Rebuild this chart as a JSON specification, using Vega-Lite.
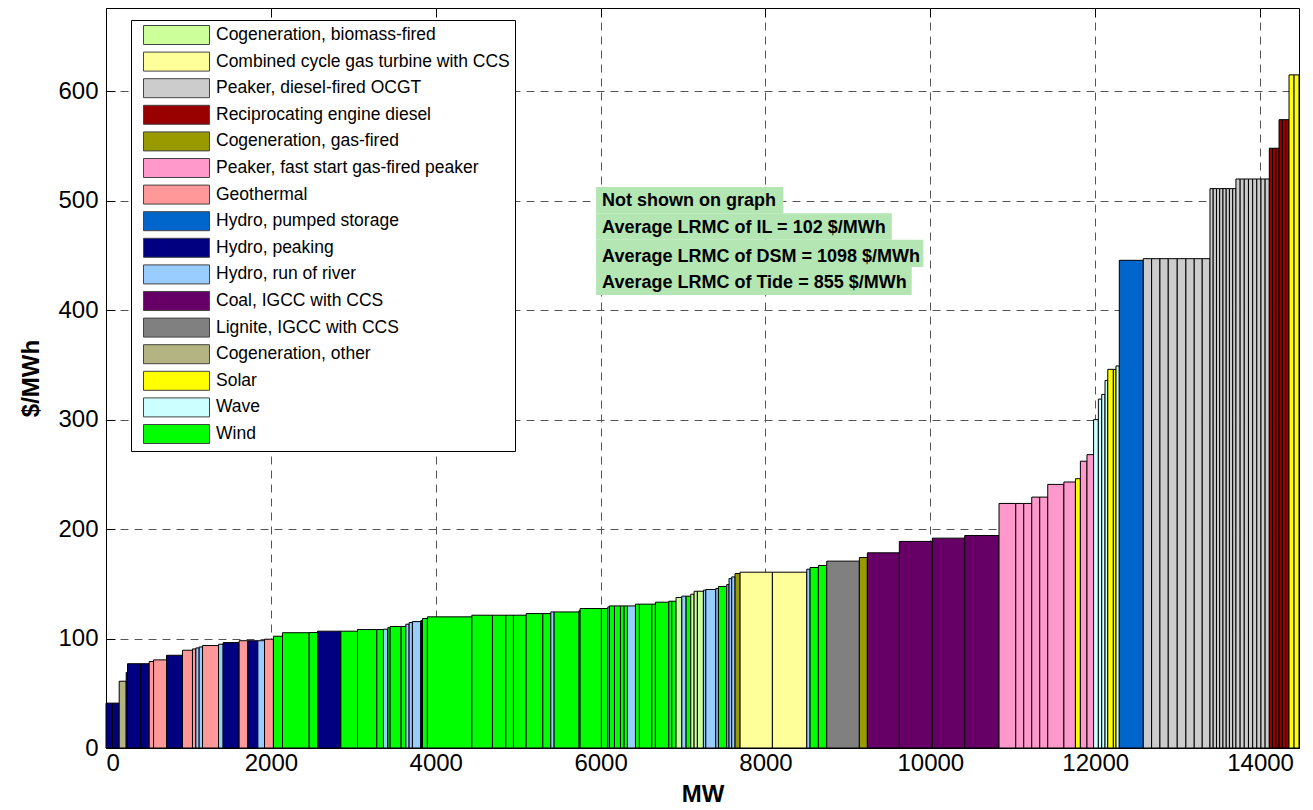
{
  "$schema": "https://vega.github.io/schema/vega-lite/v6.json",
  "width": 1193,
  "height": 740,
  "autosize": {"type": "none"},
  "padding": {"left": 106, "top": 8, "right": 14, "bottom": 62},
  "background": "white",
  "datasets": {
    "bars": [
      {"a": 0, "b": 79, "v": 41, "t": "Hydro, peaking"},
      {"a": 79, "b": 160, "v": 41, "t": "Hydro, peaking"},
      {"a": 160, "b": 245, "v": 61, "t": "Cogeneration, other"},
      {"a": 245, "b": 261, "v": 69, "t": "Hydro, peaking"},
      {"a": 261, "b": 423, "v": 77, "t": "Hydro, peaking"},
      {"a": 423, "b": 524, "v": 77, "t": "Hydro, peaking"},
      {"a": 524, "b": 577, "v": 79, "t": "Geothermal"},
      {"a": 577, "b": 734, "v": 80.5, "t": "Geothermal"},
      {"a": 734, "b": 928, "v": 84.7, "t": "Hydro, peaking"},
      {"a": 928, "b": 1049, "v": 89.3, "t": "Geothermal"},
      {"a": 1049, "b": 1090, "v": 90.5, "t": "Geothermal"},
      {"a": 1090, "b": 1130, "v": 91.4, "t": "Hydro, run of river"},
      {"a": 1130, "b": 1171, "v": 92.3, "t": "Hydro, run of river"},
      {"a": 1171, "b": 1365, "v": 93.6, "t": "Geothermal"},
      {"a": 1365, "b": 1421, "v": 94.8, "t": "Hydro, run of river"},
      {"a": 1421, "b": 1615, "v": 96.3, "t": "Hydro, peaking"},
      {"a": 1615, "b": 1721, "v": 98, "t": "Geothermal"},
      {"a": 1721, "b": 1842, "v": 98, "t": "Hydro, peaking"},
      {"a": 1842, "b": 1923, "v": 98, "t": "Hydro, run of river"},
      {"a": 1923, "b": 2031, "v": 99.4, "t": "Geothermal"},
      {"a": 2031, "b": 2141, "v": 102.1, "t": "Wind"},
      {"a": 2141, "b": 2465, "v": 105.3, "t": "Wind"},
      {"a": 2465, "b": 2566, "v": 105.5, "t": "Wind"},
      {"a": 2566, "b": 2849, "v": 106.7, "t": "Hydro, peaking"},
      {"a": 2849, "b": 3051, "v": 106.7, "t": "Wind"},
      {"a": 3051, "b": 3285, "v": 108.2, "t": "Wind"},
      {"a": 3285, "b": 3366, "v": 108.2, "t": "Wind"},
      {"a": 3366, "b": 3419, "v": 108.5, "t": "Hydro, run of river"},
      {"a": 3419, "b": 3447, "v": 110, "t": "Wind"},
      {"a": 3447, "b": 3580, "v": 111, "t": "Wind"},
      {"a": 3580, "b": 3637, "v": 111, "t": "Wind"},
      {"a": 3637, "b": 3677, "v": 113.1, "t": "Hydro, run of river"},
      {"a": 3677, "b": 3717, "v": 114.6, "t": "Hydro, run of river"},
      {"a": 3717, "b": 3819, "v": 115.5, "t": "Hydro, run of river"},
      {"a": 3819, "b": 3839, "v": 116.4, "t": "Hydro, peaking"},
      {"a": 3839, "b": 3899, "v": 118.3, "t": "Wind"},
      {"a": 3899, "b": 4438, "v": 119.8, "t": "Wind"},
      {"a": 4438, "b": 4688, "v": 121.3, "t": "Wind"},
      {"a": 4688, "b": 4850, "v": 121.3, "t": "Wind"},
      {"a": 4850, "b": 4943, "v": 121.3, "t": "Wind"},
      {"a": 4943, "b": 5097, "v": 121.3, "t": "Wind"},
      {"a": 5097, "b": 5299, "v": 122.8, "t": "Wind"},
      {"a": 5299, "b": 5396, "v": 122.8, "t": "Wind"},
      {"a": 5396, "b": 5436, "v": 124.3, "t": "Hydro, run of river"},
      {"a": 5436, "b": 5739, "v": 124.3, "t": "Wind"},
      {"a": 5739, "b": 5751, "v": 125.5, "t": "Hydro, run of river"},
      {"a": 5751, "b": 6010, "v": 127.4, "t": "Wind"},
      {"a": 6010, "b": 6087, "v": 127.4, "t": "Wind"},
      {"a": 6087, "b": 6107, "v": 128.9, "t": "Hydro, run of river"},
      {"a": 6107, "b": 6168, "v": 129.8, "t": "Wind"},
      {"a": 6168, "b": 6241, "v": 129.8, "t": "Wind"},
      {"a": 6241, "b": 6285, "v": 129.8, "t": "Wind"},
      {"a": 6285, "b": 6326, "v": 129.8, "t": "Wind"},
      {"a": 6326, "b": 6423, "v": 129.8, "t": "Hydro, run of river"},
      {"a": 6423, "b": 6471, "v": 131.4, "t": "Wind"},
      {"a": 6471, "b": 6621, "v": 131.4, "t": "Wind"},
      {"a": 6621, "b": 6665, "v": 131.4, "t": "Wind"},
      {"a": 6665, "b": 6827, "v": 133.2, "t": "Wind"},
      {"a": 6827, "b": 6863, "v": 134.1, "t": "Wind"},
      {"a": 6863, "b": 6915, "v": 134.1, "t": "Wind"},
      {"a": 6915, "b": 6985, "v": 137.5, "t": "Cogeneration, biomass-fired"},
      {"a": 6985, "b": 7037, "v": 138.7, "t": "Hydro, run of river"},
      {"a": 7037, "b": 7094, "v": 138.7, "t": "Wind"},
      {"a": 7094, "b": 7134, "v": 140.5, "t": "Cogeneration, biomass-fired"},
      {"a": 7134, "b": 7174, "v": 143.2, "t": "Cogeneration, biomass-fired"},
      {"a": 7174, "b": 7247, "v": 143.2, "t": "Cogeneration, biomass-fired"},
      {"a": 7247, "b": 7276, "v": 144.2, "t": "Hydro, run of river"},
      {"a": 7276, "b": 7397, "v": 144.8, "t": "Hydro, run of river"},
      {"a": 7397, "b": 7429, "v": 145.7, "t": "Hydro, run of river"},
      {"a": 7429, "b": 7530, "v": 147.5, "t": "Wind"},
      {"a": 7530, "b": 7558, "v": 149.3, "t": "Hydro, run of river"},
      {"a": 7558, "b": 7591, "v": 154.8, "t": "Hydro, run of river"},
      {"a": 7591, "b": 7631, "v": 156.3, "t": "Hydro, run of river"},
      {"a": 7631, "b": 7692, "v": 159.4, "t": "Cogeneration, gas-fired"},
      {"a": 7692, "b": 8084, "v": 160.6, "t": "Combined cycle gas turbine with CCS"},
      {"a": 8084, "b": 8501, "v": 160.6, "t": "Combined cycle gas turbine with CCS"},
      {"a": 8501, "b": 8541, "v": 163.3, "t": "Hydro, run of river"},
      {"a": 8541, "b": 8642, "v": 164.9, "t": "Wind"},
      {"a": 8642, "b": 8743, "v": 166.7, "t": "Wind"},
      {"a": 8743, "b": 9139, "v": 170.7, "t": "Lignite, IGCC with CCS"},
      {"a": 9139, "b": 9236, "v": 174, "t": "Cogeneration, gas-fired"},
      {"a": 9236, "b": 9624, "v": 178.3, "t": "Coal, IGCC with CCS"},
      {"a": 9624, "b": 10024, "v": 188.7, "t": "Coal, IGCC with CCS"},
      {"a": 10024, "b": 10417, "v": 191.7, "t": "Coal, IGCC with CCS"},
      {"a": 10417, "b": 10833, "v": 194.1, "t": "Coal, IGCC with CCS"},
      {"a": 10833, "b": 11036, "v": 223.4, "t": "Peaker, fast start gas-fired peaker"},
      {"a": 11036, "b": 11133, "v": 223.4, "t": "Peaker, fast start gas-fired peaker"},
      {"a": 11133, "b": 11230, "v": 223.4, "t": "Peaker, fast start gas-fired peaker"},
      {"a": 11230, "b": 11327, "v": 229.2, "t": "Peaker, fast start gas-fired peaker"},
      {"a": 11327, "b": 11424, "v": 229.2, "t": "Peaker, fast start gas-fired peaker"},
      {"a": 11424, "b": 11620, "v": 240.8, "t": "Peaker, fast start gas-fired peaker"},
      {"a": 11620, "b": 11760, "v": 243, "t": "Peaker, fast start gas-fired peaker"},
      {"a": 11760, "b": 11820, "v": 246, "t": "Solar"},
      {"a": 11820, "b": 11900, "v": 262, "t": "Peaker, fast start gas-fired peaker"},
      {"a": 11900, "b": 11980, "v": 268, "t": "Peaker, fast start gas-fired peaker"},
      {"a": 11980, "b": 12038, "v": 300, "t": "Wave"},
      {"a": 12038, "b": 12079, "v": 318.7, "t": "Wave"},
      {"a": 12079, "b": 12119, "v": 323, "t": "Wave"},
      {"a": 12119, "b": 12152, "v": 335.8, "t": "Wave"},
      {"a": 12152, "b": 12220, "v": 345.9, "t": "Solar"},
      {"a": 12220, "b": 12252, "v": 345.9, "t": "Solar"},
      {"a": 12252, "b": 12292, "v": 349, "t": "Wave"},
      {"a": 12292, "b": 12583, "v": 445.5, "t": "Hydro, pumped storage"},
      {"a": 12583, "b": 12684, "v": 447, "t": "Peaker, diesel-fired OCGT"},
      {"a": 12684, "b": 12785, "v": 447, "t": "Peaker, diesel-fired OCGT"},
      {"a": 12785, "b": 12886, "v": 447, "t": "Peaker, diesel-fired OCGT"},
      {"a": 12886, "b": 12995, "v": 447, "t": "Peaker, diesel-fired OCGT"},
      {"a": 12995, "b": 13100, "v": 447, "t": "Peaker, diesel-fired OCGT"},
      {"a": 13100, "b": 13201, "v": 447, "t": "Peaker, diesel-fired OCGT"},
      {"a": 13201, "b": 13298, "v": 447, "t": "Peaker, diesel-fired OCGT"},
      {"a": 13298, "b": 13392, "v": 447, "t": "Peaker, diesel-fired OCGT"},
      {"a": 13392, "b": 13431, "v": 511, "t": "Peaker, diesel-fired OCGT"},
      {"a": 13431, "b": 13471, "v": 511, "t": "Peaker, diesel-fired OCGT"},
      {"a": 13471, "b": 13510, "v": 511, "t": "Peaker, diesel-fired OCGT"},
      {"a": 13510, "b": 13550, "v": 511, "t": "Peaker, diesel-fired OCGT"},
      {"a": 13550, "b": 13589, "v": 511, "t": "Peaker, diesel-fired OCGT"},
      {"a": 13589, "b": 13628, "v": 511, "t": "Peaker, diesel-fired OCGT"},
      {"a": 13628, "b": 13668, "v": 511, "t": "Peaker, diesel-fired OCGT"},
      {"a": 13668, "b": 13707, "v": 511, "t": "Peaker, diesel-fired OCGT"},
      {"a": 13707, "b": 13758, "v": 519.8, "t": "Peaker, diesel-fired OCGT"},
      {"a": 13758, "b": 13808, "v": 519.8, "t": "Peaker, diesel-fired OCGT"},
      {"a": 13808, "b": 13859, "v": 519.8, "t": "Peaker, diesel-fired OCGT"},
      {"a": 13859, "b": 13910, "v": 519.8, "t": "Peaker, diesel-fired OCGT"},
      {"a": 13910, "b": 13960, "v": 519.8, "t": "Peaker, diesel-fired OCGT"},
      {"a": 13960, "b": 14011, "v": 519.8, "t": "Peaker, diesel-fired OCGT"},
      {"a": 14011, "b": 14061, "v": 519.8, "t": "Peaker, diesel-fired OCGT"},
      {"a": 14061, "b": 14112, "v": 519.8, "t": "Peaker, diesel-fired OCGT"},
      {"a": 14112, "b": 14151, "v": 547.9, "t": "Reciprocating engine diesel"},
      {"a": 14151, "b": 14191, "v": 547.9, "t": "Reciprocating engine diesel"},
      {"a": 14191, "b": 14230, "v": 547.9, "t": "Reciprocating engine diesel"},
      {"a": 14230, "b": 14270, "v": 574, "t": "Reciprocating engine diesel"},
      {"a": 14270, "b": 14311, "v": 574, "t": "Reciprocating engine diesel"},
      {"a": 14311, "b": 14351, "v": 574, "t": "Reciprocating engine diesel"},
      {"a": 14351, "b": 14412, "v": 614.9, "t": "Solar"},
      {"a": 14412, "b": 14472, "v": 614.9, "t": "Solar"}
    ]
  },
  "data": {"name": "bars"},
  "layer": [
    {
      "mark": {"type": "rect", "stroke": "black", "strokeWidth": 1},
      "encoding": {
        "x": {"field": "a", "type": "quantitative", "scale": {"domain": [0, 14472], "nice": false, "zero": false},
              "axis": {"orient": "bottom", "title": "MW", "values": [0, 2000, 4000, 6000, 8000, 10000, 12000, 14000], "format": "d", "grid": true, "labelPadding": 12, "titlePadding": 7}},
        "x2": {"field": "b"},
        "y": {"field": "v", "type": "quantitative", "scale": {"domain": [0, 676], "nice": false},
              "axis": {"orient": "left", "title": "$/MWh", "values": [0, 100, 200, 300, 400, 500, 600], "grid": true, "titlePadding": 14}},
        "y2": {"datum": 0},
        "color": {
          "field": "t", "type": "nominal",
          "scale": {
            "domain": ["Cogeneration, biomass-fired", "Combined cycle gas turbine with CCS", "Peaker, diesel-fired OCGT", "Reciprocating engine diesel", "Cogeneration, gas-fired", "Peaker, fast start gas-fired peaker", "Geothermal", "Hydro, pumped storage", "Hydro, peaking", "Hydro, run of river", "Coal, IGCC with CCS", "Lignite, IGCC with CCS", "Cogeneration, other", "Solar", "Wave", "Wind"],
            "range": ["#CCFF99", "#FFFF99", "#CCCCCC", "#990000", "#999900", "#FF99CC", "#FF9999", "#0066CC", "#000080", "#99CCFF", "#660066", "#808080", "#B4B482", "#FFFF00", "#CCFFFF", "#00FF00"]
          },
          "legend": {
            "orient": "none", "legendX": 25, "legendY": 12, "title": null,
            "symbolType": "M-0.263,-1L6.684,-1L6.684,1L-0.263,1Z",
            "symbolSize": 361,
            "symbolStrokeColor": "#444444", "symbolStrokeWidth": 1, "symbolOpacity": 1,
            "labelFontSize": 17.5, "labelFont": "Liberation Sans", "labelColor": "black",
            "labelOffset": 60, "labelLimit": 500,
            "rowPadding": 2.6, "padding": 5,
            "fillColor": "white", "strokeColor": "black"
          }
        }
      }
    },
    {
      "data": {"values": [{}]},
      "mark": {"type": "rect", "fill": "#B3E6B3"},
      "encoding": {"x": {"datum": 5945, "type": "quantitative", "axis": null}, "x2": {"datum": 8217}, "y": {"datum": 512.5, "type": "quantitative", "axis": null}, "y2": {"datum": 488.5}}
    },
    {
      "data": {"values": [{}]},
      "mark": {"type": "rect", "fill": "#B3E6B3"},
      "encoding": {"x": {"datum": 5945, "type": "quantitative", "axis": null}, "x2": {"datum": 9532}, "y": {"datum": 488.5, "type": "quantitative", "axis": null}, "y2": {"datum": 464.2}}
    },
    {
      "data": {"values": [{}]},
      "mark": {"type": "rect", "fill": "#B3E6B3"},
      "encoding": {"x": {"datum": 5945, "type": "quantitative", "axis": null}, "x2": {"datum": 9915}, "y": {"datum": 464.2, "type": "quantitative", "axis": null}, "y2": {"datum": 439.5}}
    },
    {
      "data": {"values": [{}]},
      "mark": {"type": "rect", "fill": "#B3E6B3"},
      "encoding": {"x": {"datum": 5945, "type": "quantitative", "axis": null}, "x2": {"datum": 9774}, "y": {"datum": 439.5, "type": "quantitative", "axis": null}, "y2": {"datum": 413.9}}
    },
    {
      "data": {"values": [{}]},
      "mark": {"type": "text", "align": "left", "baseline": "alphabetic", "font": "Liberation Sans", "fontWeight": "bold", "fontSize": 18, "color": "black"},
      "encoding": {"x": {"datum": 6018, "type": "quantitative", "axis": null}, "y": {"datum": 495.1, "type": "quantitative", "axis": null}, "text": {"value": "Not shown on graph"}}
    },
    {
      "data": {"values": [{}]},
      "mark": {"type": "text", "align": "left", "baseline": "alphabetic", "font": "Liberation Sans", "fontWeight": "bold", "fontSize": 18, "color": "black"},
      "encoding": {"x": {"datum": 6018, "type": "quantitative", "axis": null}, "y": {"datum": 470.2, "type": "quantitative", "axis": null}, "text": {"value": "Average LRMC of IL = 102 $/MWh"}}
    },
    {
      "data": {"values": [{}]},
      "mark": {"type": "text", "align": "left", "baseline": "alphabetic", "font": "Liberation Sans", "fontWeight": "bold", "fontSize": 18, "color": "black"},
      "encoding": {"x": {"datum": 6018, "type": "quantitative", "axis": null}, "y": {"datum": 444.2, "type": "quantitative", "axis": null}, "text": {"value": "Average LRMC of DSM = 1098 $/MWh"}}
    },
    {
      "data": {"values": [{}]},
      "mark": {"type": "text", "align": "left", "baseline": "alphabetic", "font": "Liberation Sans", "fontWeight": "bold", "fontSize": 18, "color": "black"},
      "encoding": {"x": {"datum": 6018, "type": "quantitative", "axis": null}, "y": {"datum": 419.9, "type": "quantitative", "axis": null}, "text": {"value": "Average LRMC of Tide = 855 $/MWh"}}
    },
    {
      "mark": {"type": "point", "opacity": 0},
      "encoding": {
        "x": {"field": "a", "type": "quantitative", "axis": {"orient": "top", "title": null, "labels": false, "grid": false, "values": [0, 2000, 4000, 6000, 8000, 10000, 12000, 14000], "domain": false}},
        "y": {"field": "v", "type": "quantitative", "axis": {"orient": "right", "title": null, "labels": false, "grid": false, "values": [0, 100, 200, 300, 400, 500, 600], "domain": false}}
      }
    }
  ],
  "resolve": {"axis": {"x": "independent", "y": "independent"}},
  "config": {
    "font": "Liberation Sans",
    "view": {"stroke": "black", "strokeWidth": 1},
    "axis": {
      "domainColor": "black", "tickColor": "black", "labelColor": "black", "titleColor": "black",
      "gridColor": "#555555", "gridDash": [8, 6], "gridWidth": 1, "gridOpacity": 1,
      "labelFont": "Liberation Sans", "labelFontSize": 24,
      "titleFont": "Liberation Sans", "titleFontSize": 24, "titleFontWeight": "bold",
      "tickSize": -9, "labelPadding": 17
    }
  }
}
